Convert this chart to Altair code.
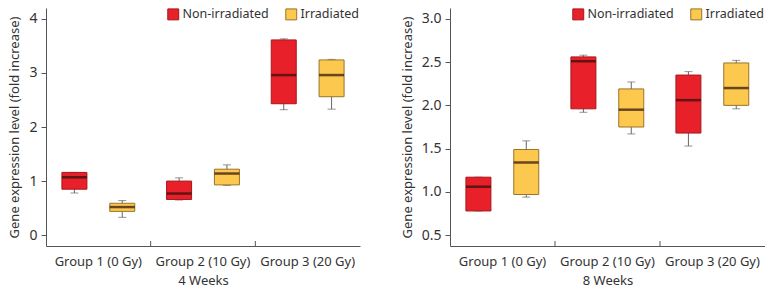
import altair as alt
import pandas as pd

groups = ["Group 1 (0 Gy)", "Group 2 (10 Gy)", "Group 3 (20 Gy)"]
conditions = ["Non-irradiated", "Irradiated"]

# 4 weeks: order per group -> [Non-irradiated, Irradiated]
w4_low    = [0.78, 0.33, 0.65, 0.92, 2.32, 2.33]
w4_q1     = [0.85, 0.44, 0.66, 0.93, 2.43, 2.56]
w4_median = [1.07, 0.52, 0.77, 1.14, 2.96, 2.96]
w4_q3     = [1.16, 0.59, 1.00, 1.22, 3.61, 3.24]
w4_high   = [1.16, 0.64, 1.06, 1.30, 3.63, 3.25]

# 8 weeks
w8_low    = [0.78, 0.94, 1.92, 1.67, 1.53, 1.96]
w8_q1     = [0.78, 0.97, 1.96, 1.75, 1.68, 2.00]
w8_median = [1.06, 1.34, 2.51, 1.95, 2.06, 2.20]
w8_q3     = [1.17, 1.49, 2.56, 2.19, 2.35, 2.49]
w8_high   = [1.17, 1.59, 2.58, 2.27, 2.39, 2.52]

fills = ["#E8202A", "#FCC84E"]
strokes = ["#A8161C", "#9A7428"]
FONT = "Noto Sans"
TXT = "#333333"
AX = "#555555"


def make_df(low, q1, med, q3, high):
    rows = []
    i = 0
    for g in groups:
        for c in conditions:
            rows.append(dict(group=g, condition=c, low=low[i], q1=q1[i],
                             median=med[i], q3=q3[i], high=high[i]))
            i += 1
    return pd.DataFrame(rows)


def panel(df, domain, ticks, fmt, xtitle, width, height):
    base = alt.Chart(df).encode(
        x=alt.X("group:N", sort=groups,
                scale=alt.Scale(paddingInner=0, paddingOuter=0),
                axis=alt.Axis(title=xtitle, labelAngle=0, ticks=False,
                              labelPadding=9, titlePadding=6)),
        xOffset=alt.XOffset("condition:N", sort=conditions,
                            scale=alt.Scale(domain=conditions, paddingInner=0,
                                            paddingOuter=0.094)),
    )
    yscale = alt.Scale(domain=domain, nice=False, zero=False)
    yaxis = alt.Axis(title="Gene expression level (fold increase)", values=ticks,
                     format=fmt, labelPadding=4, titlePadding=7)
    whisker = base.mark_rule(color="#666666", strokeWidth=1).encode(
        y=alt.Y("low:Q", scale=yscale, axis=yaxis), y2="high:Q")
    cap_lo = base.mark_tick(color="#666666", thickness=1, size=8).encode(
        y=alt.Y("low:Q", scale=yscale))
    cap_hi = base.mark_tick(color="#666666", thickness=1, size=8).encode(
        y=alt.Y("high:Q", scale=yscale))
    box = base.mark_bar(width=25, strokeWidth=1).encode(
        y=alt.Y("q1:Q", scale=yscale), y2="q3:Q",
        fill=alt.Fill("condition:N", sort=conditions,
                      scale=alt.Scale(domain=conditions, range=fills),
                      legend=alt.Legend(title=None, orient="top-right",
                                        direction="horizontal", offset=0,
                                        padding=0, symbolType="square",
                                        symbolSize=120, symbolStrokeWidth=1,
                                        symbolStrokeColor="#7a5a20",
                                        labelFontSize=12.5, labelFont=FONT,
                                        labelColor=TXT, labelOffset=3,
                                        columnPadding=14)),
        stroke=alt.Stroke("condition:N", sort=conditions,
                          scale=alt.Scale(domain=conditions, range=strokes),
                          legend=None),
    )
    med = base.mark_tick(color="#2B0E08", thickness=2.5, size=25).encode(
        y=alt.Y("median:Q", scale=yscale))
    sep = alt.Chart(pd.DataFrame({"group": groups[1:]})).mark_rule(
        color=AX, strokeWidth=1).encode(
        x=alt.X("group:N", sort=groups, bandPosition=0),
        y=alt.value(height), y2=alt.value(height - 5))
    return alt.layer(whisker, cap_lo, cap_hi, box, med, sep).properties(
        width=width, height=height
    ).resolve_scale(fill="independent", stroke="independent")


left = panel(make_df(w4_low, w4_q1, w4_median, w4_q3, w4_high),
             [-0.2, 4.2], [0, 1, 2, 3, 4], "d", "4 Weeks", 314, 238)
right = panel(make_df(w8_low, w8_q1, w8_median, w8_q3, w8_high),
              [0.375, 3.125], [0.5, 1.0, 1.5, 2.0, 2.5, 3.0], ".1f",
              "8 Weeks", 315, 238)

chart = alt.hconcat(left, right, spacing=41).resolve_scale(
    fill="independent", stroke="independent", x="independent", y="independent"
).properties(padding=0).configure_view(stroke=None).configure_axis(
    grid=False, domainColor=AX, tickColor=AX, tickSize=5,
    labelFont=FONT, titleFont=FONT, labelColor=TXT, titleColor=TXT,
    labelFontSize=13, titleFontSize=13, titleFontWeight="normal"
).configure_axisY(labelFontSize=14, titleFontSize=13)

chart.save("out.html", embed_options={"renderer": "svg", "actions": False})
